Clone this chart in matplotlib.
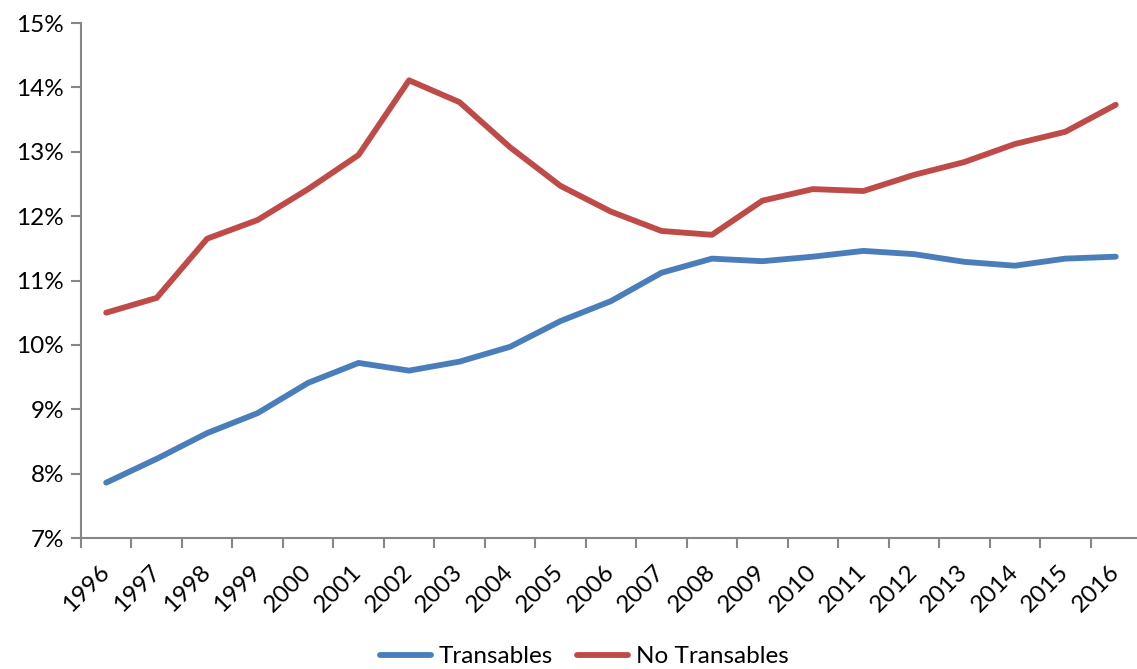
import numpy as np
import matplotlib.pyplot as plt
from matplotlib.ticker import FixedLocator, PercentFormatter

plt.rcParams['font.family'] = ['Lato', 'DejaVu Sans']

# Datos (porcentaje)
years = [str(y) for y in range(1996, 2017)]
transables = [7.86, 8.23, 8.63, 8.94, 9.41, 9.72, 9.60, 9.74, 9.97, 10.37, 10.68,
              11.12, 11.34, 11.30, 11.37, 11.46, 11.41, 11.29, 11.23, 11.34, 11.37]
no_transables = [10.50, 10.73, 11.65, 11.94, 12.42, 12.95, 14.11, 13.77, 13.07, 12.47, 12.07,
                 11.77, 11.71, 12.24, 12.42, 12.39, 12.64, 12.84, 13.12, 13.31, 13.73]

grey = '#868686'
fs = 17.5

fig = plt.figure(figsize=(11.37, 6.69), dpi=100)
ax = fig.add_axes([0.0712, 0.1958, 0.9323, 0.7698])

x = np.arange(len(years))
ax.plot(x, transables, color='#4A7EBB', lw=4.2, solid_capstyle='round',
        solid_joinstyle='round', label='Transables')
ax.plot(x, no_transables, color='#BE4B48', lw=4.2, solid_capstyle='round',
        solid_joinstyle='round', label='No Transables')

ax.set_xlim(-0.5, len(years) - 0.5)
ax.set_ylim(7, 15)
ax.set_yticks(np.arange(7, 16, 1))
ax.yaxis.set_major_formatter(PercentFormatter(decimals=0))

ax.set_xticks(x)
ax.set_xticklabels(years, rotation=45, ha='right', va='center', rotation_mode='anchor')
ax.xaxis.set_minor_locator(FixedLocator(np.arange(-0.5, len(years), 1)))
ax.tick_params(axis='x', which='major', length=0, pad=22, labelsize=fs)
ax.tick_params(axis='x', which='minor', length=7, width=1.5, color=grey, direction='out')
ax.tick_params(axis='y', length=7, width=1.5, color=grey, labelsize=fs, pad=5)

for s in ['top', 'right']:
    ax.spines[s].set_visible(False)
for s in ['left', 'bottom']:
    ax.spines[s].set_color(grey)
    ax.spines[s].set_linewidth(1.5)

fig.legend(loc='center', bbox_to_anchor=(0.514, 0.018), ncol=2, frameon=False,
           fontsize=fs, handlelength=2.1, handletextpad=0.3, columnspacing=1.0)

fig.savefig('out.png', dpi=100)
